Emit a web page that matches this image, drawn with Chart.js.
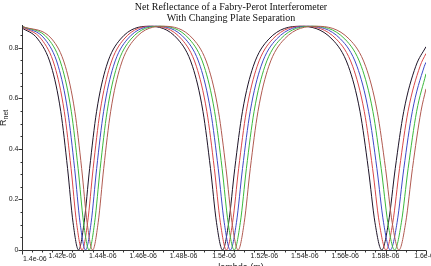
<!DOCTYPE html>
<html>
<head>
<meta charset="utf-8">
<script src="https://cdn.jsdelivr.net/npm/chart.js@4.4.0/dist/chart.umd.min.js"></script>
<style>
  html, body { margin: 0; padding: 0; background: #fff; }
  #chart { display: block; }
</style>
</head>
<body>
<canvas id="chart" width="431" height="266"></canvas>
<script>
const titleLines = ['Net Reflectance of a Fabry-Perot Interferometer', 'With Changing Plate Separation'];
const xAxisTitle = 'lambda (m)';

const xTickValues = [1.4, 1.42, 1.44, 1.46, 1.48, 1.5, 1.52, 1.54, 1.56, 1.58, 1.6];
const xTickLabels = ['1.4e-06', '1.42e-06', '1.44e-06', '1.46e-06', '1.48e-06', '1.5e-06',
  '1.52e-06', '1.54e-06', '1.56e-06', '1.58e-06', '1.6e-06'];
const yTickValues = [0, 0.2, 0.4, 0.6, 0.8];
const yTickLabels = ['0', '0.2', '0.4', '0.6', '0.8'];

// wavelength in micrometres (axis labels show metres), reflectance
const lambdaBlack = [1.4, 1.40782, 1.41448, 1.41918, 1.42256, 1.42528, 1.42800, 1.43074, 1.43348, 1.43693, 1.44178, 1.44877,
  1.46278, 1.47706, 1.48440, 1.48958, 1.49331, 1.49630, 1.49930, 1.50232, 1.50534, 1.50915, 1.51450, 1.52222,
  1.53768, 1.55346, 1.56158, 1.56732, 1.57144, 1.57475, 1.57808, 1.58142, 1.58478, 1.58899, 1.59493, 1.6];
const rBlack = [0.8785, 0.8344, 0.7268, 0.5485, 0.3226, 0.1079, 0, 0.1079, 0.3226, 0.5485, 0.7268, 0.8344,
  0.8851, 0.8344, 0.7268, 0.5485, 0.3226, 0.1079, 0, 0.1079, 0.3226, 0.5485, 0.7268, 0.8344,
  0.8851, 0.8344, 0.7268, 0.5485, 0.3226, 0.1079, 0, 0.1079, 0.3226, 0.5485, 0.7268, 0.8042];

const lambdaRed = [1.4, 1.40956, 1.41622, 1.42092, 1.42430, 1.42701, 1.42974, 1.43247, 1.43522, 1.43867, 1.44352, 1.45051,
  1.46460, 1.47897, 1.48631, 1.49149, 1.49522, 1.49821, 1.50121, 1.50423, 1.50725, 1.51106, 1.51641, 1.52413,
  1.53969, 1.55558, 1.56370, 1.56944, 1.57356, 1.57687, 1.58020, 1.58354, 1.58690, 1.59111, 1.59705, 1.6];
const rRed = [0.8821, 0.8344, 0.7268, 0.5485, 0.3226, 0.1079, 0, 0.1079, 0.3226, 0.5485, 0.7268, 0.8344,
  0.8851, 0.8344, 0.7268, 0.5485, 0.3226, 0.1079, 0, 0.1079, 0.3226, 0.5485, 0.7268, 0.8344,
  0.8851, 0.8344, 0.7268, 0.5485, 0.3226, 0.1079, 0, 0.1079, 0.3226, 0.5485, 0.7268, 0.7774];

const lambdaBlue = [1.4, 1.41130, 1.41796, 1.42266, 1.42604, 1.42875, 1.43148, 1.43421, 1.43696, 1.44041, 1.44526, 1.45225,
  1.46643, 1.48089, 1.48823, 1.49341, 1.49714, 1.50013, 1.50313, 1.50615, 1.50917, 1.51298, 1.51833, 1.52605,
  1.54171, 1.55771, 1.56583, 1.57157, 1.57569, 1.57900, 1.58233, 1.58567, 1.58903, 1.59324, 1.59918, 1.6];
const rBlue = [0.8842, 0.8344, 0.7268, 0.5485, 0.3226, 0.1079, 0, 0.1079, 0.3226, 0.5485, 0.7268, 0.8344,
  0.8851, 0.8344, 0.7268, 0.5485, 0.3226, 0.1079, 0, 0.1079, 0.3226, 0.5485, 0.7268, 0.8344,
  0.8851, 0.8344, 0.7268, 0.5485, 0.3226, 0.1079, 0, 0.1079, 0.3226, 0.5485, 0.7268, 0.7425];

const lambdaGreen = [1.4, 1.41304, 1.41970, 1.42440, 1.42778, 1.43049, 1.43322, 1.43595, 1.43870, 1.44215, 1.44700, 1.45399,
  1.46826, 1.48281, 1.49015, 1.49533, 1.49906, 1.50205, 1.50505, 1.50807, 1.51109, 1.51490, 1.52025, 1.52797,
  1.54373, 1.55984, 1.56796, 1.57370, 1.57782, 1.58113, 1.58446, 1.58780, 1.59116, 1.59537, 1.6];
const rGreen = [0.8851, 0.8344, 0.7268, 0.5485, 0.3226, 0.1079, 0, 0.1079, 0.3226, 0.5485, 0.7268, 0.8344,
  0.8851, 0.8344, 0.7268, 0.5485, 0.3226, 0.1079, 0, 0.1079, 0.3226, 0.5485, 0.7268, 0.8344,
  0.8851, 0.8344, 0.7268, 0.5485, 0.3226, 0.1079, 0, 0.1079, 0.3226, 0.5485, 0.6971];

const lambdaBrown = [1.4, 1.41479, 1.42145, 1.42615, 1.42953, 1.43224, 1.43497, 1.43770, 1.44045, 1.44390, 1.44875, 1.45574,
  1.47009, 1.48474, 1.49208, 1.49726, 1.50099, 1.50398, 1.50698, 1.51000, 1.51302, 1.51683, 1.52218, 1.52990,
  1.54576, 1.56198, 1.57010, 1.57584, 1.57996, 1.58327, 1.58660, 1.58994, 1.59330, 1.59751, 1.6];
const rBrown = [0.8846, 0.8344, 0.7268, 0.5485, 0.3226, 0.1079, 0, 0.1079, 0.3226, 0.5485, 0.7268, 0.8344,
  0.8851, 0.8344, 0.7268, 0.5485, 0.3226, 0.1079, 0, 0.1079, 0.3226, 0.5485, 0.7268, 0.8344,
  0.8851, 0.8344, 0.7268, 0.5485, 0.3226, 0.1079, 0, 0.1079, 0.3226, 0.5485, 0.6376];

const curves = [
  { xs: lambdaBrown, ys: rBrown, color: '#b05a50' },
  { xs: lambdaGreen, ys: rGreen, color: '#3cb83c' },
  { xs: lambdaBlue, ys: rBlue, color: '#3e48c8' },
  { xs: lambdaRed, ys: rRed, color: '#d84848' },
  { xs: lambdaBlack, ys: rBlack, color: '#1e1428' },
];

const datasets = curves.map(c => ({
  data: c.xs.map((x, i) => ({ x, y: c.ys[i] })),
  showLine: true,
  borderColor: c.color,
  borderWidth: 1,
  pointRadius: 0,
  fill: false,
  cubicInterpolationMode: 'monotone',
}));

const axesPlugin = {
  id: 'axesPlugin',
  afterDraw(chart) {
    const { ctx, chartArea } = chart;
    const xs = chart.scales.x;
    const ys = chart.scales.y;
    const axisX = Math.round(xs.getPixelForValue(1.4)) + 0.5;
    const axisY = Math.round(ys.getPixelForValue(0)) + 0.5;

    ctx.save();
    ctx.strokeStyle = '#333';
    ctx.lineWidth = 1;
    ctx.beginPath();
    ctx.moveTo(axisX, chartArea.top);
    ctx.lineTo(axisX, axisY);
    ctx.lineTo(chartArea.right, axisY);

    // x ticks, minor every 0.005
    for (let k = 0; k <= 40; k++) {
      const px = Math.round(xs.getPixelForValue(1.4 + k * 0.005)) + 0.5;
      const len = k % 4 === 0 ? 4 : 2;
      ctx.moveTo(px, axisY);
      ctx.lineTo(px, axisY + len);
    }
    // y ticks, minor every 0.05
    for (let k = 0; k <= 17; k++) {
      const py = Math.round(ys.getPixelForValue(k * 0.05)) + 0.5;
      const len = k % 4 === 0 ? 4 : 2;
      ctx.moveTo(axisX, py);
      ctx.lineTo(axisX - len, py);
    }
    ctx.stroke();

    ctx.fillStyle = '#222';
    ctx.font = '7px "Liberation Sans", Arial, sans-serif';
    ctx.textAlign = 'right';
    ctx.textBaseline = 'middle';
    yTickValues.forEach((v, i) => {
      ctx.fillText(yTickLabels[i], axisX - 4, ys.getPixelForValue(v));
    });

    ctx.textBaseline = 'top';
    xTickValues.forEach((v, i) => {
      const px = xs.getPixelForValue(v);
      if (i === 0) {
        ctx.textAlign = 'left';
        ctx.fillText(xTickLabels[i], px + 1, axisY + 5);
      } else {
        ctx.textAlign = 'center';
        ctx.fillText(xTickLabels[i], px, axisY + 2);
      }
    });

    // axis titles (the x title runs off the bottom edge in the original)
    ctx.font = '9px "Liberation Sans", Arial, sans-serif';
    ctx.textAlign = 'center';
    ctx.fillText(xAxisTitle, 241, 263);

    ctx.save();
    ctx.translate(4, 118);
    ctx.rotate(-Math.PI / 2);
    ctx.textAlign = 'left';
    ctx.textBaseline = 'middle';
    ctx.font = '9px "Liberation Sans", Arial, sans-serif';
    ctx.fillText('R', -8, 0);
    ctx.font = '7px "Liberation Sans", Arial, sans-serif';
    ctx.fillText('net', -1.5, 2);
    ctx.restore();

    // title
    ctx.fillStyle = '#111';
    ctx.font = '10px "Liberation Serif", "Times New Roman", serif';
    ctx.textAlign = 'center';
    ctx.textBaseline = 'middle';
    ctx.fillText(titleLines[0], 231, 7);
    ctx.fillText(titleLines[1], 231, 18);
    ctx.restore();
  },
};

new Chart(document.getElementById('chart'), {
  type: 'scatter',
  data: { datasets },
  options: {
    responsive: false,
    animation: false,
    devicePixelRatio: 1,
    layout: { padding: { left: 22, right: 5, top: 25, bottom: 16 } },
    plugins: {
      legend: { display: false },
      tooltip: { enabled: false },
      title: { display: false },
    },
    scales: {
      x: { type: 'linear', min: 1.4, max: 1.6, display: false },
      y: { type: 'linear', min: 0, max: 0.89, display: false },
    },
  },
  plugins: [axesPlugin],
});
</script>
</body>
</html>
